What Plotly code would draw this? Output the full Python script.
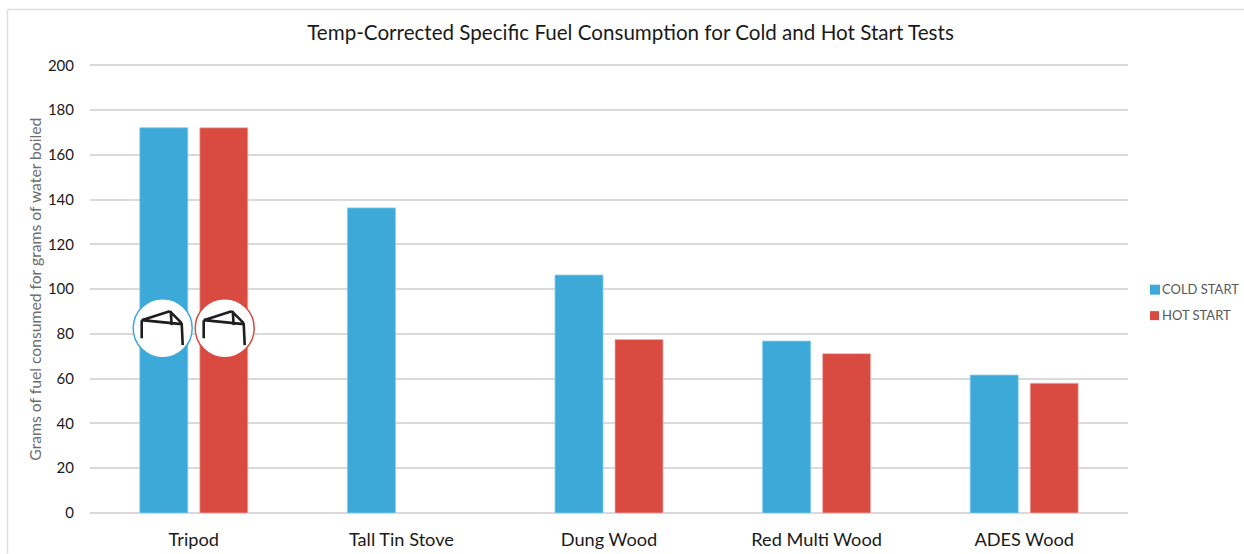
import plotly.graph_objects as go

categories = ["Tripod", "Tall Tin Stove", "Dung Wood", "Red Multi Wood", "ADES Wood"]
cold_start = [172.1, 136.3, 106.3, 76.8, 61.6]
hot_start = [172.1, None, 77.5, 71.2, 58.0]
series_names = ["COLD START", "HOT START"]
y_ticks = [0, 20, 40, 60, 80, 100, 120, 140, 160, 180, 200]
title_text = "Temp-Corrected Specific Fuel Consumption for Cold and Hot Start Tests"
y_title = "Grams of fuel consumed for grams of water boiled"

BLUE = "#3DA9D8"
RED = "#D94A41"
GRID = "#DADADA"
FONT = "Lato, Carlito, Calibri, sans-serif"
W, H = 1244, 554
Y_TOP = 200.6
L, R, T, B = 90, 116, 65.5 - 0.6 * 2.24, 40.5
PW = W - L - R


def px(x):
    return (x - L) / PW


def py(y):
    return 1 - (y - T) / (H - T - B)


fig = go.Figure()
fig.add_bar(name=series_names[0], x=categories, y=cold_start, marker_color=BLUE,
            marker_line=dict(color="rgba(130,205,235,0.8)", width=1), showlegend=False)
fig.add_bar(name=series_names[1], x=categories, y=hot_start, marker_color=RED,
            marker_line=dict(color="rgba(240,180,175,0.7)", width=1), showlegend=False)

shapes = []
annotations = []

# chart frame (open towards right and bottom, as in the reference crop)
frame = dict(type="line", xref="paper", yref="paper", layer="below",
             line=dict(color="#DEDEDE", width=1.5))
shapes.append({**frame, "x0": px(7.5), "x1": px(7.5), "y0": py(9.5), "y1": py(554)})
shapes.append({**frame, "x0": px(7.5), "x1": px(1244), "y0": py(9.5), "y1": py(9.5)})

# tripod icons over the first group
icon_lines = [
    ((-21, 8), (7, 17)), ((7, 17), (19, 5)), ((-21, 8), (19, 4)),
    ((8, 17), (9, 3)), ((-21, 8), (-21, -10)), ((19, 5), (20, -17)),
]
icon_path = " ".join(f"M{a[0]},{a[1]} L{b[0]},{b[1]}" for a, b in icon_lines)
for cx, col in ((162.7, BLUE), (224.7, RED)):
    shapes.append(dict(type="circle", xref="paper", yref="paper", xsizemode="pixel", ysizemode="pixel",
                       xanchor=px(cx), yanchor=py(328.5), x0=-29.5, x1=29.5, y0=-29.5, y1=29.5,
                       fillcolor="white", line=dict(color=col, width=1.5)))
    shapes.append(dict(type="path", xref="paper", yref="paper", xsizemode="pixel", ysizemode="pixel",
                       xanchor=px(cx), yanchor=py(328.5), path=icon_path,
                       line=dict(color="#1E1E1E", width=2.6)))

# legend
for name, col, sx, sy, ss in ((series_names[0], BLUE, 1150, 290, 10), (series_names[1], RED, 1150, 316, 9)):
    shapes.append(dict(type="rect", xref="paper", yref="paper", x0=px(sx), x1=px(sx + ss),
                       y0=py(sy - ss / 2), y1=py(sy + ss / 2), fillcolor=col, line_width=0))
    annotations.append(dict(text=name, xref="paper", yref="paper", x=px(1160), y=py(sy - 0.5),
                            xanchor="left", yanchor="middle", showarrow=False,
                            font=dict(family=FONT, size=13, color="#595959")))

# axis title placed by pixel position
annotations.append(dict(text=y_title, xref="paper", yref="paper", x=px(35), y=py(290), textangle=-90,
                        xanchor="center", yanchor="middle", showarrow=False,
                        font=dict(family=FONT, size=15.7, color="#6E6E6E")))

fig.update_layout(
    width=W, height=H, autosize=False,
    margin=dict(l=L, r=R, t=T, b=B, pad=0),
    paper_bgcolor="white", plot_bgcolor="white",
    barmode="group", bargap=0.422, bargroupgap=0.2,
    title=dict(text=title_text, x=630.5 / W, xanchor="center", y=1 - 33 / H, yanchor="middle",
               font=dict(family=FONT, size=20.6, color="#1A1A1A")),
    xaxis=dict(type="category", automargin=False, showgrid=False, ticks="outside", ticklen=10,
               tickcolor="rgba(0,0,0,0)", showline=False,
               tickfont=dict(family=FONT, size=18.2, color="#1A1A1A")),
    yaxis=dict(range=[0, Y_TOP], automargin=False, tickvals=y_ticks, gridcolor=GRID, gridwidth=1.5,
               zeroline=True, zerolinecolor=GRID, zerolinewidth=1.5, showline=False,
               ticks="outside", ticklen=12, tickcolor="rgba(0,0,0,0)",
               tickfont=dict(family=FONT, size=15, color="#1A1A1A")),
    shapes=shapes, annotations=annotations,
    font=dict(family=FONT),
)

fig.write_html("out.html", config={"displayModeBar": False},
               post_script="document.body.style.margin='0';document.body.style.overflow='hidden';")
